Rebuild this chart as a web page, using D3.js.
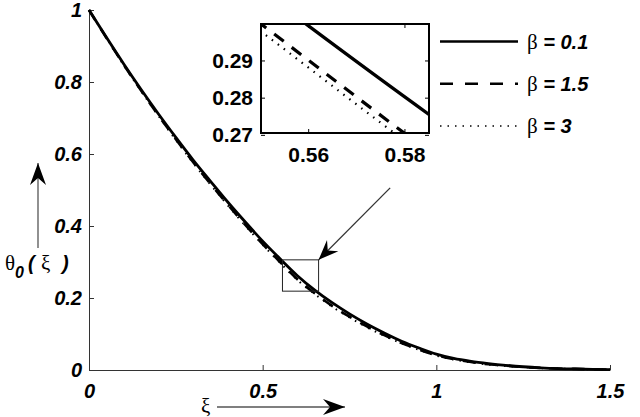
<!DOCTYPE html>
<html>
<head>
<meta charset="utf-8">
<script src="https://cdn.jsdelivr.net/npm/d3@7"></script>
<style>
  body { margin: 0; background: #fff; }
  svg { display: block; }
</style>
</head>
<body>
<svg id="chart" width="640" height="417"></svg>
<script>
// xi values shared by all three series
const xi = [0, 0.05, 0.1, 0.15, 0.2, 0.25, 0.3, 0.35, 0.4, 0.45, 0.5, 0.55, 0.6, 0.65, 0.7, 0.75,
  0.8, 0.85, 0.9, 0.95, 1.0, 1.05, 1.1, 1.15, 1.2, 1.25, 1.3, 1.35, 1.4, 1.45, 1.5];

// theta_0(xi) for each beta
const thetaBeta01 = [1.000, 0.924, 0.850, 0.779, 0.711, 0.646, 0.583, 0.524, 0.466, 0.411, 0.358, 0.309,
  0.262, 0.222, 0.187, 0.156, 0.128, 0.103, 0.080, 0.061, 0.044, 0.032, 0.024, 0.018, 0.013, 0.009,
  0.006, 0.004, 0.003, 0.002, 0.001];
const thetaBeta15 = [1.000, 0.923, 0.848, 0.776, 0.707, 0.641, 0.577, 0.517, 0.459, 0.403, 0.350, 0.300,
  0.252, 0.213, 0.178, 0.148, 0.121, 0.097, 0.075, 0.057, 0.041, 0.030, 0.022, 0.016, 0.012, 0.008,
  0.006, 0.004, 0.003, 0.002, 0.001];
const thetaBeta3 = [1.000, 0.923, 0.847, 0.775, 0.706, 0.639, 0.575, 0.515, 0.457, 0.401, 0.348, 0.298,
  0.250, 0.211, 0.176, 0.146, 0.119, 0.095, 0.074, 0.056, 0.040, 0.029, 0.021, 0.015, 0.011, 0.008,
  0.005, 0.004, 0.003, 0.002, 0.001];

const betaLabels = ["0.1", "1.5", "3"];

const xTicks = [0, 0.5, 1, 1.5];
const yTicks = [0, 0.2, 0.4, 0.6, 0.8, 1];
const insetXTicks = [0.56, 0.58];
const insetYTicks = [0.27, 0.28, 0.29];

// zoom window (main plot box) and the inset's visible range
const zoomBox = { x0: 0.557, x1: 0.661, y0: 0.219, y1: 0.306 };
const insetXDomain = [0.5502, 0.5851];
const insetYDomain = [0.2705, 0.2998];
const pointerFrom = [0.867, 0.506];

const series = [thetaBeta01, thetaBeta15, thetaBeta3];
const styles = [
  { dash: null, width: 2.8, insetWidth: 3.2 },
  { dash: "12,10", width: 2.6, insetWidth: 3.2 },
  { dash: "1.5,6", width: 2, insetWidth: 2.2 },
];

const sans = '"Liberation Sans", Arial, Helvetica, sans-serif';
const serif = '"Liberation Serif", "DejaVu Serif", serif';

const svg = d3.select("#chart");

const x = d3.scaleLinear().domain([0, 1.5]).range([89, 610]);
const y = d3.scaleLinear().domain([0, 1]).range([370, 10]);

// Main axes
const styleAxis = (g, size, italic) => {
  g.select(".domain").attr("stroke", "#333").attr("stroke-width", 1);
  g.selectAll(".tick line").attr("stroke", "#333");
  g.selectAll(".tick text")
    .attr("fill", "#000")
    .style("font-family", sans)
    .style("font-size", `${size}px`)
    .style("font-weight", "bold")
    .style("font-style", italic ? "italic" : "normal");
};

svg.append("g")
  .attr("transform", `translate(0,${y(0)})`)
  .call(d3.axisBottom(x).tickValues(xTicks).tickFormat(d3.format("~g"))
    .tickSizeInner(-5).tickSizeOuter(0).tickPadding(14))
  .call((g) => styleAxis(g, 20, true));

svg.append("g")
  .attr("transform", `translate(${x(0)},0)`)
  .call(d3.axisLeft(y).tickValues(yTicks).tickFormat(d3.format("~g"))
    .tickSizeInner(-5).tickSizeOuter(0).tickPadding(7))
  .call((g) => styleAxis(g, 20, true));

// Curves in the main plot (solid drawn last so it sits on top)
const mainLine = d3.line()
  .x((d, i) => x(xi[i]))
  .y((d) => y(d))
  .curve(d3.curveMonotoneX);

[2, 1, 0].forEach((k) => {
  svg.append("path")
    .attr("d", mainLine(series[k]))
    .attr("fill", "none")
    .attr("stroke", "#000")
    .attr("stroke-width", styles[k].width)
    .attr("stroke-dasharray", styles[k].dash);
});

// Zoom window on the main curve
svg.append("rect")
  .attr("x", x(zoomBox.x0))
  .attr("y", y(zoomBox.y1))
  .attr("width", x(zoomBox.x1) - x(zoomBox.x0))
  .attr("height", y(zoomBox.y0) - y(zoomBox.y1))
  .attr("fill", "none")
  .attr("stroke", "#222")
  .attr("stroke-width", 1);

// Arrow helpers
function arrowHead(x1, y1, x2, y2, len, half, notch) {
  const a = Math.atan2(y2 - y1, x2 - x1);
  const ux = Math.cos(a), uy = Math.sin(a);
  const px = -uy, py = ux;
  const bx = x2 - ux * len, by = y2 - uy * len;
  const nx = x2 - ux * notch, ny = y2 - uy * notch;
  return `M${x2},${y2}L${bx + px * half},${by + py * half}L${nx},${ny}L${bx - px * half},${by - py * half}Z`;
}

function drawArrow(x1, y1, x2, y2, len, half, notch, color) {
  svg.append("line")
    .attr("x1", x1).attr("y1", y1)
    .attr("x2", x2).attr("y2", y2)
    .attr("stroke", color)
    .attr("stroke-width", 1.3);
  svg.append("path")
    .attr("d", arrowHead(x1, y1, x2, y2, len, half, notch))
    .attr("fill", "#000");
}

// Pointer from inset to zoom window
drawArrow(x(pointerFrom[0]), y(pointerFrom[1]), x(zoomBox.x1), y(zoomBox.y1), 20, 8, 13, "#333");

// Axis label arrows
drawArrow(38, 248, 38, 163, 22, 8, 15, "#555");
drawArrow(217, 407, 345, 407, 22, 8, 15, "#555");

// Axis labels
const boldItalic = (t, size) => t.style("font-family", sans).style("font-size", `${size}px`)
  .style("font-weight", "bold").style("font-style", "italic");

const yLab = svg.append("text").attr("y", 270).attr("fill", "#000");
yLab.append("tspan").attr("x", 5).style("font-family", serif).style("font-size", "21px").text("θ");
boldItalic(yLab.append("tspan").attr("x", 15).attr("dy", 8), 16).text("0");
boldItalic(yLab.append("tspan").attr("x", 28).attr("dy", -8), 20).text("(");
yLab.append("tspan").attr("x", 41).style("font-family", serif).style("font-size", "21px").text("ξ");
boldItalic(yLab.append("tspan").attr("x", 62), 20).text(")");

svg.append("text")
  .attr("x", 201).attr("y", 413)
  .attr("fill", "#000")
  .style("font-family", serif)
  .style("font-size", "21px")
  .text("ξ");

// Inset
const ix = d3.scaleLinear().domain(insetXDomain).range([261, 429]);
const iy = d3.scaleLinear().domain(insetYDomain).range([133, 24]);

svg.append("clipPath").attr("id", "insetClip")
  .append("rect")
  .attr("x", ix.range()[0]).attr("y", iy.range()[1])
  .attr("width", ix.range()[1] - ix.range()[0])
  .attr("height", iy.range()[0] - iy.range()[1]);

svg.append("rect")
  .attr("x", ix.range()[0]).attr("y", iy.range()[1])
  .attr("width", ix.range()[1] - ix.range()[0])
  .attr("height", iy.range()[0] - iy.range()[1])
  .attr("fill", "#fff");

const insetLine = d3.line()
  .x((d, i) => ix(xi[i]))
  .y((d) => iy(d))
  .curve(d3.curveMonotoneX);

const insetG = svg.append("g").attr("clip-path", "url(#insetClip)");
[0, 1, 2].forEach((k) => {
  insetG.append("path")
    .attr("d", insetLine(series[k]))
    .attr("fill", "none")
    .attr("stroke", "#000")
    .attr("stroke-width", styles[k].insetWidth)
    .attr("stroke-dasharray", styles[k].dash);
});

const insetAxis = (g) => {
  g.select(".domain").remove();
  g.selectAll(".tick line").attr("stroke", "#000");
  g.selectAll(".tick text")
    .attr("fill", "#000")
    .style("font-family", sans)
    .style("font-size", "21px")
    .style("font-weight", "bold");
};

svg.append("g")
  .attr("transform", `translate(0,${iy.range()[0]})`)
  .call(d3.axisBottom(ix).tickValues(insetXTicks).tickFormat(d3.format(".2f"))
    .tickSizeInner(-4).tickSizeOuter(0).tickPadding(14))
  .call(insetAxis);

svg.append("g")
  .attr("transform", `translate(0,${iy.range()[1]})`)
  .call(d3.axisTop(ix).tickValues(insetXTicks).tickFormat("")
    .tickSizeInner(-4).tickSizeOuter(0))
  .call(insetAxis);

svg.append("g")
  .attr("transform", `translate(${ix.range()[0]},0)`)
  .call(d3.axisLeft(iy).tickValues(insetYTicks).tickFormat(d3.format(".2f"))
    .tickSizeInner(-4).tickSizeOuter(0).tickPadding(8))
  .call(insetAxis);

svg.append("g")
  .attr("transform", `translate(${ix.range()[1]},0)`)
  .call(d3.axisRight(iy).tickValues(insetYTicks).tickFormat("")
    .tickSizeInner(-4).tickSizeOuter(0))
  .call(insetAxis);

svg.append("rect")
  .attr("x", ix.range()[0]).attr("y", iy.range()[1])
  .attr("width", ix.range()[1] - ix.range()[0])
  .attr("height", iy.range()[0] - iy.range()[1])
  .attr("fill", "none")
  .attr("stroke", "#000")
  .attr("stroke-width", 2);

// Legend (no frame)
const legendRow = d3.scalePoint().domain(betaLabels).range([41.5, 126]);
betaLabels.forEach((lab, k) => {
  const ry = legendRow(lab);
  svg.append("line")
    .attr("x1", 440).attr("x2", 518)
    .attr("y1", ry).attr("y2", ry)
    .attr("stroke", "#000")
    .attr("stroke-width", k === 2 ? 1.6 : 2.6)
    .attr("stroke-dasharray", k === 1 ? "13,12" : styles[k].dash);
  const t = svg.append("text").attr("x", 527).attr("y", ry + 7).attr("fill", "#000");
  t.append("tspan").style("font-family", serif).style("font-size", "21px").text("β");
  boldItalic(t.append("tspan"), 20).attr("xml:space", "preserve").text(` = ${lab}`);
});
</script>
</body>
</html>
